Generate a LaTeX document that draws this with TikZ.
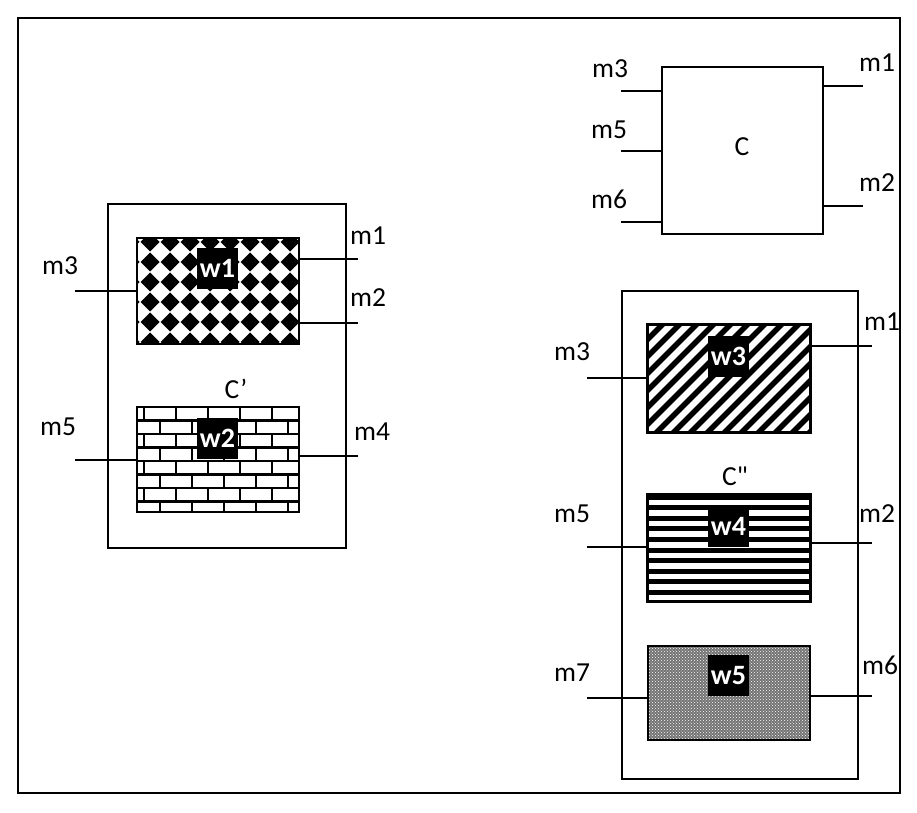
\documentclass[tikz,border=0pt]{standalone}
\usepackage{fontspec}
\setmainfont{Carlito}[Ligatures=TeXOff]
\usetikzlibrary{patterns,calc}
\pgfdeclarepatternformonly{diamondgrid}{\pgfpoint{-1pt}{-1pt}}{\pgfpoint{21pt}{21pt}}{\pgfpoint{20pt}{20pt}}{%
  \pgfpathmoveto{\pgfpoint{10pt}{0.5pt}}%
  \pgfpathlineto{\pgfpoint{19.5pt}{10pt}}%
  \pgfpathlineto{\pgfpoint{10pt}{19.5pt}}%
  \pgfpathlineto{\pgfpoint{0.5pt}{10pt}}%
  \pgfpathclose\pgfusepath{fill}}
\pgfdeclarepatternformonly{bigbricks}{\pgfpoint{-1pt}{-1pt}}{\pgfpoint{33pt}{28pt}}{\pgfpoint{32pt}{27pt}}{%
  \pgfsetlinewidth{2.2pt}%
  \pgfpathmoveto{\pgfpoint{-1pt}{0pt}}\pgfpathlineto{\pgfpoint{33pt}{0pt}}%
  \pgfpathmoveto{\pgfpoint{-1pt}{13.5pt}}\pgfpathlineto{\pgfpoint{33pt}{13.5pt}}%
  \pgfpathmoveto{\pgfpoint{0pt}{0pt}}\pgfpathlineto{\pgfpoint{0pt}{13.5pt}}%
  \pgfpathmoveto{\pgfpoint{16pt}{13.5pt}}\pgfpathlineto{\pgfpoint{16pt}{27pt}}%
  \pgfusepath{stroke}}
\begin{document}
\begin{tikzpicture}[x=1pt,y=-1pt,
  lbl/.style={font=\fontsize{27.5}{30}\selectfont, inner sep=0pt, anchor=base},
  inbox/.style={draw, line width=1.8pt, inner sep=0pt},
  wlab/.style={fill=black, text=white, font=\fontsize{28}{30}\selectfont\bfseries, inner sep=0pt, minimum width=41.5pt, minimum height=41pt},
  wire/.style={line width=1.2pt}]
\useasboundingbox (0,0) rectangle (917,812);
\draw[line width=1.3pt] (18,18) rectangle (900,793);

% Component C
\node[draw, line width=1.3pt, minimum width=161pt, minimum height=167pt, inner sep=0pt] (C) at (742.5,150.5) {};
\node[lbl] (Clbl) at (742,155) {C};
\coordinate (c3) at (621,91); \coordinate (c5) at (621,151); \coordinate (c6) at (621,222);
\coordinate (c1) at (863,86); \coordinate (c2) at (863,206);
\draw[wire] (c3) -- (c3 -| C.west);
\draw[wire] (c5) -- (c5 -| C.west);
\draw[wire] (c6) -- (c6 -| C.west);
\draw[wire] (c1) -- (c1 -| C.east);
\draw[wire] (c2) -- (c2 -| C.east);
\node[lbl] (lc3) at (610,77) {m3};
\node[lbl] (lc5) at (609,138) {m5};
\node[lbl] (lc6) at (609,208) {m6};
\node[lbl] (lc1) at (877,71) {m1};
\node[lbl] (lc2) at (877,191) {m2};

% Component C'
\node[draw, line width=1.3pt, minimum width=238pt, minimum height=344pt, inner sep=0pt] (Cp) at (227,376) {};
\node[inbox, minimum width=162pt, minimum height=106pt, pattern=diamondgrid] (w1) at (218,291) {};
\node[inbox, minimum width=162pt, minimum height=105pt, pattern=bigbricks] (w2) at (218,459.5) {};
\node[wlab] (w1l) at (217.5,268.5) {w1};
\node[wlab] (w2l) at (217.5,438.5) {w2};
\node[lbl] (Cplbl) at (236,398) {C’};
\coordinate (a3) at (75,291); \coordinate (a1) at (358,259); \coordinate (a2) at (358,323);
\coordinate (a5) at (75,460); \coordinate (a4) at (358,456);
\draw[wire] (a3) -- (a3 -| w1.west);
\draw[wire] (a1) -- (a1 -| w1.east);
\draw[wire] (a2) -- (a2 -| w1.east);
\draw[wire] (a5) -- (a5 -| w2.west);
\draw[wire] (a4) -- (a4 -| w2.east);
\node[lbl] (la3) at (60,274) {m3};
\node[lbl] (la1) at (368,244) {m1};
\node[lbl] (la2) at (368,306) {m2};
\node[lbl] (la5) at (58,435) {m5};
\node[lbl] (la4) at (372,440) {m4};

% Component C''
\node[draw, line width=1.3pt, minimum width=236pt, minimum height=488pt, inner sep=0pt] (Cpp) at (740,535) {};
\node[inbox, minimum width=162pt, minimum height=107pt] (w3) at (729,378.5) {};
\node[inbox, minimum width=162pt, minimum height=106pt] (w4) at (729,548) {};
\node[inbox, minimum width=162pt, minimum height=94pt, preaction={fill=black!55}, pattern=crosshatch dots, pattern color=white] (w5) at (729,693) {};
\begin{scope}
  \clip (w3.south west) rectangle (w3.north east);
  \foreach \k in {0,...,17} {
    \draw[line width=5.5pt] ($(w3.south west)+(\k*17-110,0)$) -- ++(120,-120);
  }
\end{scope}
\begin{scope}
  \clip (w4.south west) rectangle (w4.north east);
  \foreach \k in {0,...,10} {
    \draw[line width=5pt] ($(w4.north west)+(0,3+\k*10.6)$) -- ++(170,0);
  }
\end{scope}
\draw[line width=1.8pt] (w3.south west) rectangle (w3.north east);
\draw[line width=1.8pt] (w4.south west) rectangle (w4.north east);
\node[wlab] (w3l) at (728.5,356.5) {w3};
\node[wlab] (w4l) at (728.5,526) {w4};
\node[wlab] (w5l) at (728.5,675.5) {w5};
\node[lbl] (Cpplbl) at (735,485) {C"};
\coordinate (b3) at (587,378); \coordinate (b1) at (872,346);
\coordinate (b5) at (587,547); \coordinate (b2) at (872,543);
\coordinate (b7) at (587,698); \coordinate (b6) at (872,696);
\draw[wire] (b3) -- (b3 -| w3.west);
\draw[wire] (b1) -- (b1 -| w3.east);
\draw[wire] (b5) -- (b5 -| w4.west);
\draw[wire] (b2) -- (b2 -| w4.east);
\draw[wire] (b7) -- (b7 -| w5.west);
\draw[wire] (b6) -- (b6 -| w5.east);
\node[lbl] (lb3) at (572,360) {m3};
\node[lbl] (lb1) at (882,330) {m1};
\node[lbl] (lb5) at (572,522) {m5};
\node[lbl] (lb2) at (877,522) {m2};
\node[lbl] (lb7) at (572,681) {m7};
\node[lbl] (lb6) at (880,674) {m6};
\end{tikzpicture}
\end{document}
